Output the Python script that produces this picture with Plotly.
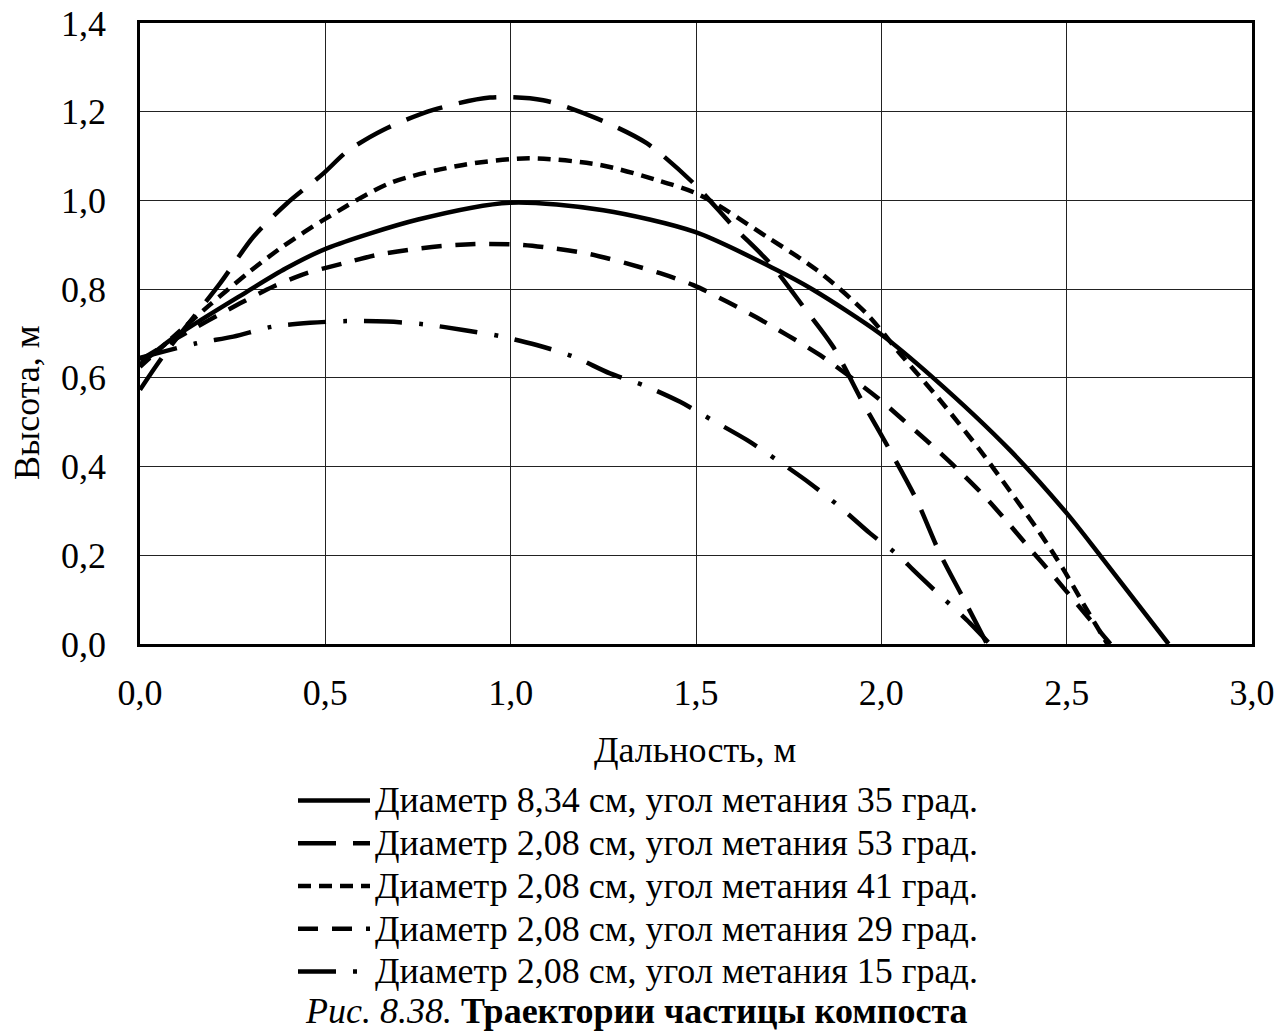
import plotly.graph_objects as go

# ---- data ----
x_35 = [0.0, 0.088, 0.288, 0.394, 0.504, 0.75, 0.998, 1.25, 1.497, 1.718, 1.817, 1.996, 2.14, 2.347, 2.50, 2.59, 2.775]
y_35 = [0.630, 0.689, 0.794, 0.847, 0.892, 0.957, 0.995, 0.978, 0.929, 0.843, 0.798, 0.700, 0.600, 0.437, 0.295, 0.200, 0.0]

x_53 = [0.0, 0.063, 0.216, 0.306, 0.396, 0.495, 0.558, 0.656, 0.791, 0.944, 1.088, 1.232, 1.367, 1.493, 1.601, 1.70, 1.79, 1.87, 1.951, 2.023, 2.095, 2.158, 2.22, 2.285]
y_53 = [0.573, 0.650, 0.813, 0.918, 0.993, 1.061, 1.110, 1.159, 1.204, 1.232, 1.226, 1.185, 1.129, 1.039, 0.941, 0.858, 0.760, 0.670, 0.543, 0.437, 0.325, 0.204, 0.105, 0.0]

x_41 = [0.0, 0.10, 0.189, 0.295, 0.385, 0.495, 0.674, 0.872, 1.05, 1.241, 1.394, 1.511, 1.691, 1.826, 1.96, 2.05, 2.158, 2.266, 2.347, 2.428, 2.49, 2.544, 2.61]
y_41 = [0.625, 0.700, 0.765, 0.839, 0.896, 0.956, 1.039, 1.080, 1.095, 1.080, 1.046, 1.012, 0.918, 0.843, 0.745, 0.655, 0.550, 0.437, 0.345, 0.250, 0.170, 0.092, 0.0]

x_29 = [0.0, 0.10, 0.27, 0.36, 0.45, 0.548, 0.639, 0.737, 0.827, 0.926, 1.025, 1.115, 1.214, 1.313, 1.403, 1.493, 1.583, 1.664, 1.745, 1.835, 1.987, 2.059, 2.131, 2.203, 2.275, 2.34, 2.406, 2.463, 2.528, 2.59, 2.618]
y_29 = [0.640, 0.690, 0.768, 0.806, 0.836, 0.858, 0.877, 0.890, 0.898, 0.902, 0.900, 0.892, 0.879, 0.858, 0.836, 0.809, 0.772, 0.736, 0.697, 0.651, 0.557, 0.505, 0.452, 0.396, 0.336, 0.275, 0.210, 0.155, 0.090, 0.028, 0.0]

x_15 = [0.0, 0.153, 0.252, 0.355, 0.459, 0.558, 0.666, 0.764, 0.872, 0.971, 1.07, 1.169, 1.268, 1.362, 1.457, 1.547, 1.637, 1.725, 1.808, 1.891, 1.969, 2.05, 2.086, 2.158, 2.201, 2.239, 2.293]
y_15 = [0.645, 0.678, 0.693, 0.715, 0.724, 0.728, 0.727, 0.721, 0.708, 0.694, 0.674, 0.648, 0.610, 0.582, 0.546, 0.503, 0.460, 0.411, 0.362, 0.307, 0.250, 0.197, 0.167, 0.110, 0.077, 0.047, 0.0]

names = [
    "Диаметр 8,34 см, угол метания 35 град.",
    "Диаметр 2,08 см, угол метания 53 град.",
    "Диаметр 2,08 см, угол метания 41 град.",
    "Диаметр 2,08 см, угол метания 29 град.",
    "Диаметр 2,08 см, угол метания 15 град.",
]
x_ticks = [0.0, 0.5, 1.0, 1.5, 2.0, 2.5, 3.0]
x_tick_labels = ["0,0", "0,5", "1,0", "1,5", "2,0", "2,5", "3,0"]
y_ticks = [0.0, 0.2, 0.4, 0.6, 0.8, 1.0, 1.2, 1.4]
y_tick_labels = ["0,0", "0,2", "0,4", "0,6", "0,8", "1,0", "1,2", "1,4"]

FONT = "Liberation Serif, Times New Roman, serif"
FS = 36
series = [
    (x_35, y_35, names[0], "solid"),
    (x_53, y_53, names[1], "38px,17px"),
    (x_41, y_41, names[2], "13px,8px"),
    (x_29, y_29, names[3], "20px,14px"),
    (x_15, y_15, names[4], "38px,17px,4px,17px"),
]

fig = go.Figure()
for xs, ys, nm, dash in series:
    fig.add_trace(go.Scatter(
        x=xs, y=ys, mode="lines",
        name=f'<span style="font-size:{FS}px">{nm}</span>',
        line=dict(color="black", width=4.5, dash=dash, shape="spline", smoothing=0.8),
    ))

OFF = 8  # page body margin seen in the screenshot
W, H = 1285, 1034
L, T = 140 - OFF, 23 - OFF
pw, ph = 1112, 621
R, B = W - L - pw, H - T - ph

def px(xp):
    return (xp - OFF - L) / pw

def py(yp):
    return (T + ph - (yp - OFF)) / ph

fig.update_layout(
    width=W, height=H,
    margin=dict(l=L, r=R, t=T, b=B, autoexpand=False),
    paper_bgcolor="white", plot_bgcolor="white",
    font=dict(family=FONT, size=FS, color="black"),
    showlegend=True,
    legend=dict(
        xref="container", yref="container",
        x=285 / W, y=1 - 766 / H, xanchor="left", yanchor="top",
        font=dict(family=FONT, size=30.6, color="black"),
        itemwidth=72, bgcolor="rgba(0,0,0,0)", borderwidth=0,
        tracegroupgap=0,
    ),
    xaxis=dict(
        range=[0, 3.0], tickmode="array", tickvals=x_ticks, ticktext=x_tick_labels,
        showgrid=True, gridcolor="#222", gridwidth=1.2,
        showline=True, linecolor="black", linewidth=2.5, mirror=True,
        ticks="", ticklabelstandoff=15, zeroline=False, ticklabeloverflow="allow",
        tickfont=dict(family=FONT, size=FS, color="black"),
    ),
    yaxis=dict(
        range=[0, 1.4], tickmode="array", tickvals=y_ticks, ticktext=y_tick_labels,
        showgrid=True, gridcolor="#222", gridwidth=1.2,
        showline=True, linecolor="black", linewidth=2.5, mirror=True,
        ticks="", ticklabelstandoff=24, zeroline=False, ticklabeloverflow="allow",
        tickfont=dict(family=FONT, size=FS, color="black"),
    ),
)

fig.add_annotation(
    text="Дальность, м", xref="paper", yref="paper",
    x=px(695), y=py(750), xanchor="center", yanchor="middle", showarrow=False,
    font=dict(family=FONT, size=FS, color="black"),
)
fig.add_annotation(
    text="Высота, м", xref="paper", yref="paper",
    x=px(27), y=py(402), xanchor="center", yanchor="middle", showarrow=False, textangle=-90,
    font=dict(family=FONT, size=FS, color="black"),
)
fig.add_annotation(
    text="<i>Рис. 8.38.</i> <b>Траектории частицы компоста</b>",
    xref="paper", yref="paper",
    x=px(636), y=py(1011), xanchor="center", yanchor="middle", showarrow=False,
    font=dict(family=FONT, size=36, color="black"),
)

fig.write_html("out.html")
